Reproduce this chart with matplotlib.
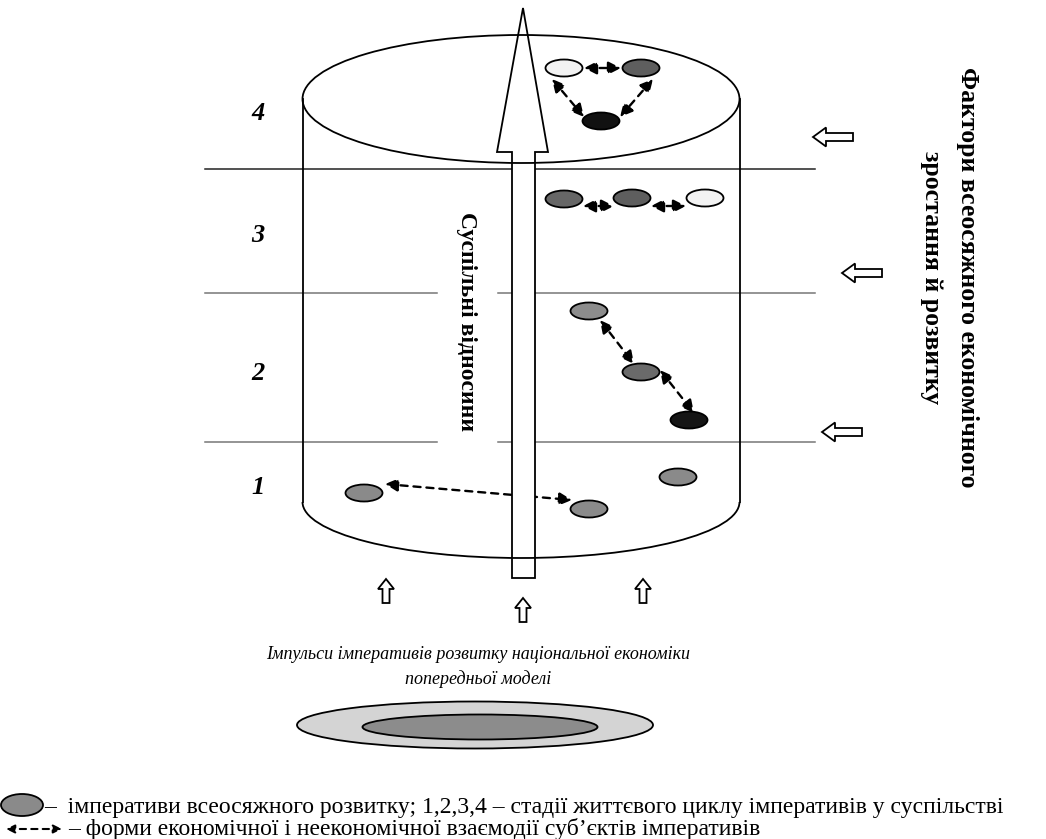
import numpy as np
import matplotlib.pyplot as plt
from matplotlib.patches import Ellipse, Arc, Polygon, FancyArrow

plt.rcParams['font.family'] = ['Liberation Serif', 'DejaVu Serif']

# stages of the life cycle
stage_labels = ['1', '2', '3', '4']
stage_y = [487, 373, 235, 113]
stage_lines_y = [169, 293, 442]

# imperatives (ellipses): centre x, centre y, fill colour
imp_x = [564, 641, 601, 564, 632, 705, 589, 641, 689, 364, 589, 678]
imp_y = [68, 68, 121, 199, 198, 198, 311, 372, 420, 493, 509, 477]
imp_col = ['#f2f2f2', '#5e5e5e', '#111111',
           '#666666', '#5e5e5e', '#f2f2f2',
           '#8c8c8c', '#6a6a6a', '#151515',
           '#8a8a8a', '#8a8a8a', '#8a8a8a']

# interactions (dashed double arrows)
link_start = [(584, 68), (552, 79), (653, 79), (583, 206), (651, 206),
              (600, 320), (660, 370), (385, 484)]
link_end = [(621, 68), (584, 117), (620, 117), (614, 206), (686, 206),
            (634, 364), (694, 413), (572, 500)]

# outer factors (left arrows) and impulses (up arrows)
factor_x = [853, 882, 862]
factor_y = [137, 273, 432]
impulse_x = [386, 523, 643]
impulse_y = [603, 622, 603]

title_right = ['Фактори всеосяжного економічного', 'зростання й розвитку']
center_text = 'Суспільні відносини'
bottom_text = 'Імпульси імперативів розвитку національної економіки\nпопередньої моделі'
legend1 = '–  імперативи всеосяжного розвитку; 1,2,3,4 – стадії життєвого циклу імперативів у суспільстві'
legend2 = '– форми економічної і неекономічної взаємодії суб’єктів імперативів'

fig = plt.figure(figsize=(10.46, 8.39), dpi=100)
ax = fig.add_axes([0, 0, 1, 1])
ax.set_xlim(0, 1046)
ax.set_ylim(839, 0)
ax.axis('off')

# horizontal stage borders
for i, y in enumerate(stage_lines_y):
    if i == 0:
        ax.plot([205, 815], [y, y], color='#222222', lw=1.1, zorder=1)
    else:
        ax.plot([205, 437], [y, y], color='#777777', lw=1.1, zorder=1)
        ax.plot([498, 815], [y, y], color='#777777', lw=1.1, zorder=1)

# cylinder
cx, top_y, bot_y, w = 521, 99, 502, 437
ax.add_patch(Ellipse((cx, top_y), w, 128, fc='white', ec='none', zorder=2))
ax.add_patch(Ellipse((cx, top_y), w, 128, fc='none', ec='black', lw=1.3, zorder=6))
ax.plot([cx - w / 2, cx - w / 2], [top_y, bot_y], color='black', lw=1.3, zorder=6)
ax.plot([cx + w / 2, cx + w / 2], [top_y, bot_y], color='black', lw=1.3, zorder=6)
ax.add_patch(Arc((cx, bot_y), w, 112, theta1=0, theta2=180, color='black', lw=1.3, zorder=6))

# dashed interaction arrows
for s, e in zip(link_start, link_end):
    ax.annotate('', xy=e, xytext=s,
                arrowprops=dict(arrowstyle='<|-|>,head_length=0.75,head_width=0.38',
                                linestyle=(0, (3, 2.5)), lw=1.7, color='black',
                                shrinkA=0, shrinkB=0), zorder=3)

# big arrow "social relations"
big = [(512, 578), (535, 578), (535, 152), (548, 152), (523, 8),
       (497, 152), (512, 152)]
ax.add_patch(Polygon(big, closed=True, fc='white', ec='black', lw=1.3, zorder=4))
ax.text(466, 322, center_text, rotation=-90, ha='center', va='center',
        fontsize=17, fontweight='bold', zorder=7)

# imperatives
for x, y, c in zip(imp_x, imp_y, imp_col):
    ax.add_patch(Ellipse((x, y), 37, 17, fc=c, ec='black', lw=1.3, zorder=8))

# stage numbers
for lab, y in zip(stage_labels, stage_y):
    ax.text(258, y, lab, ha='center', va='center', fontsize=19,
            fontweight='bold', fontstyle='italic')

# factor arrows
for x, y in zip(factor_x, factor_y):
    ax.add_patch(FancyArrow(x, y, -40, 0, width=8, head_width=19, head_length=13,
                            length_includes_head=True, fc='white', ec='black', lw=1.3))
ax.text(967, 277, title_right[0], rotation=-90, ha='center', va='center',
        fontsize=18.5, fontweight='bold')
ax.text(932, 278, title_right[1], rotation=-90, ha='center', va='center',
        fontsize=18.5, fontweight='bold')

# impulse arrows
for x, y in zip(impulse_x, impulse_y):
    ax.add_patch(FancyArrow(x, y, 0, -24, width=7, head_width=16, head_length=10,
                            length_includes_head=True, fc='white', ec='black', lw=1.3))

ax.text(478, 667, bottom_text, ha='center', va='center', fontsize=13,
        fontstyle='italic', linespacing=1.5)

# base of the previous model
ax.add_patch(Ellipse((475, 725), 356, 47, fc='#d4d4d4', ec='black', lw=1.3))
ax.add_patch(Ellipse((480, 727), 235, 25, fc='#8c8c8c', ec='black', lw=1.3))

# legend
ax.add_patch(Ellipse((22, 805), 42, 22, fc='#8a8a8a', ec='black', lw=1.3))
ax.text(44, 808, legend1, ha='left', va='center', fontsize=17)
ax.annotate('', xy=(62, 829), xytext=(6, 829),
            arrowprops=dict(arrowstyle='<|-|>,head_length=0.5,head_width=0.25',
                            linestyle=(0, (3, 2.5)), lw=1.5, color='black',
                            shrinkA=0, shrinkB=0))
ax.text(68, 829, legend2, ha='left', va='center', fontsize=17)

fig.savefig('out.png', dpi=100)
